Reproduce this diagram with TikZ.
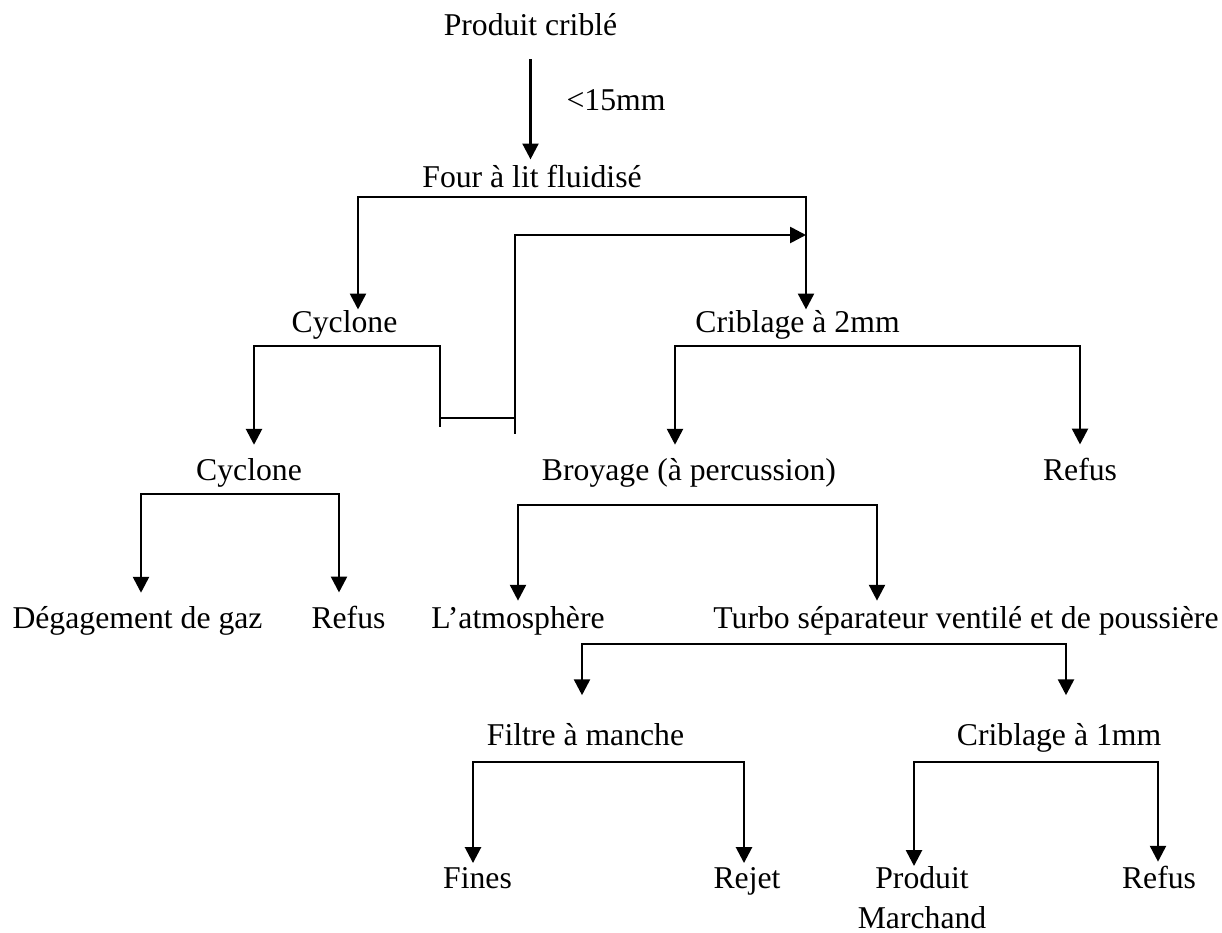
\documentclass[tikz,border=0pt]{standalone}
\usepackage{fontspec}
\setmainfont{Liberation Serif}
\usetikzlibrary{arrows.meta}

\begin{document}
\begin{tikzpicture}[x=0.3785pt,y=-0.3785pt,
  font=\fontsize{12}{15}\selectfont,
  lbl/.style={inner sep=0pt,anchor=base},
  ln/.style={line width=1pt,line cap=rect},
  w/.style={-{Triangle[length=6pt,width=6pt]},line width=1pt,line cap=rect}]
  \useasboundingbox (0,0) rectangle (1222,932);
  \node[lbl,outer ysep=9.5pt] (pc) at (530.5,35) {Produit criblé};
  \node[lbl] (mm) at (616,110) {<15mm};
  \node[lbl,outer ysep=2pt] (four) at (532,187) {Four à lit fluidisé};
  \node[lbl] (cyc1) at (344.5,332) {Cyclone};
  \node[lbl] (cr2) at (797.5,332) {Criblage à 2mm};
  \node[lbl,outer ysep=5pt] (cyc2) at (249,480) {Cyclone};
  \node[lbl,outer ysep=5pt] (broy) at (689,480) {Broyage (à percussion)};
  \node[lbl,outer ysep=5pt] (ref1) at (1080,480) {Refus};
  \node[lbl,outer ysep=5pt] (deg) at (137.5,628) {Dégagement de gaz};
  \node[lbl,outer ysep=5pt] (ref2) at (348.5,628) {Refus};
  \node[lbl,outer ysep=2pt] (atm) at (518,628) {L’atmosphère};
  \node[lbl,outer ysep=2pt] (turbo) at (966,628) {Turbo séparateur ventilé et de poussière};
  \node[lbl,outer ysep=10.5pt] (filt) at (585.5,745) {Filtre à manche};
  \node[lbl,outer ysep=10.5pt] (cr1) at (1059,745) {Criblage à 1mm};
  \node[lbl,outer ysep=1.5pt] (fines) at (477.5,888) {Fines};
  \node[lbl,outer ysep=1.5pt] (rejet) at (747,888) {Rejet};
  \node[inner sep=0pt,anchor=north,align=center] (pm) at (922,866) {Produit\\Marchand};
  \node[lbl,outer ysep=1.5pt] (ref3) at (1159,888) {Refus};

  \coordinate (fl) at (358,197);  \coordinate (fr) at (806,197);
  \coordinate (c1l) at (254,346); \coordinate (c1r) at (440,346);
  \coordinate (k2l) at (675,346); \coordinate (k2r) at (1080,346);
  \coordinate (c2l) at (141,494); \coordinate (c2r) at (339,494);
  \coordinate (bl) at (518,505);  \coordinate (br) at (877,505);
  \coordinate (tl) at (582,644);  \coordinate (tr) at (1066,644);
  \coordinate (ml) at (473,762);  \coordinate (mr) at (744,762);
  \coordinate (k1l) at (914,762); \coordinate (k1r) at (1158,762);
  \coordinate (lp1) at (440,426); \coordinate (lp2) at (440,418);
  \coordinate (lp3) at (515,418); \coordinate (lp4) at (515,433);
  \coordinate (lp5) at (515,235);

  \draw[w] (pc.south) -- (pc.south |- four.north);
  \draw[w] (fr) -- (fl) -- (fl |- cyc1.north);
  \draw[w] (fr) -- (fr |- cr2.north);
  \draw[ln] (c1l) -- (c1r) -- (lp1);
  \draw[ln] (lp2) -- (lp3);
  \draw[ln] (lp4) -- (lp5);
  \draw[w] (lp5) -- (lp5 -| fr);
  \draw[w] (c1r) -- (c1l) -- (c1l |- cyc2.north);
  \draw[w] (k2r) -- (k2l) -- (k2l |- broy.north);
  \draw[w] (k2r) -- (k2r |- ref1.north);
  \draw[w] (c2r) -- (c2l) -- (c2l |- deg.north);
  \draw[w] (c2r) -- (c2r |- ref2.north);
  \draw[w] (br) -- (bl) -- (bl |- atm.north);
  \draw[w] (br) -- (br |- turbo.north);
  \draw[w] (tr) -- (tl) -- (tl |- filt.north);
  \draw[w] (tr) -- (tr |- cr1.north);
  \draw[w] (mr) -- (ml) -- (ml |- fines.north);
  \draw[w] (mr) -- (mr |- rejet.north);
  \draw[w] (k1r) -- (k1l) -- (k1l |- pm.north);
  \draw[w] (k1r) -- (k1r |- ref3.north);
\end{tikzpicture}
\end{document}
